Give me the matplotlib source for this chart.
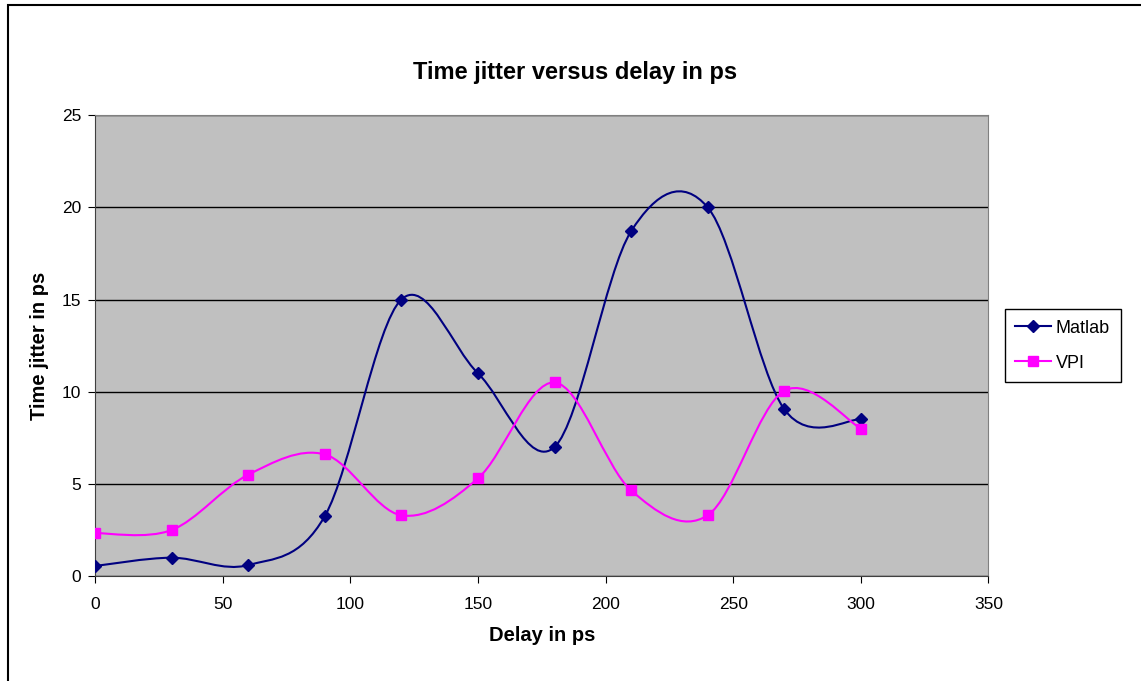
import matplotlib
matplotlib.use("Agg")
import matplotlib.pyplot as plt
from matplotlib.path import Path
from matplotlib.patches import PathPatch, Rectangle
from matplotlib.lines import Line2D

plt.rcParams['font.family'] = ['Liberation Sans', 'DejaVu Sans']

delay = [0, 30, 60, 90, 120, 150, 180, 210, 240, 270, 300]
matlab = [0.55, 1.0, 0.6, 3.25, 15.0, 11.0, 7.0, 18.7, 20.0, 9.05, 8.5]
vpi = [2.33, 2.5, 5.5, 6.6, 3.3, 5.3, 10.5, 4.65, 3.3, 10.05, 8.0]

matlab_color = '#000080'
vpi_color = '#FF00FF'


def smooth_path(xs, ys):
    # excel-like smoothed line: bezier segments through every point
    n = len(xs)
    verts = [(xs[0], ys[0])]
    codes = [Path.MOVETO]
    for i in range(n - 1):
        x0, y0 = xs[max(i - 1, 0)], ys[max(i - 1, 0)]
        x1, y1 = xs[i], ys[i]
        x2, y2 = xs[i + 1], ys[i + 1]
        x3, y3 = xs[min(i + 2, n - 1)], ys[min(i + 2, n - 1)]
        verts += [(x1 + (x2 - x0) / 6, y1 + (y2 - y0) / 6),
                  (x2 - (x3 - x1) / 6, y2 - (y3 - y1) / 6),
                  (x2, y2)]
        codes += [Path.CURVE4] * 3
    return Path(verts, codes)


fig = plt.figure(figsize=(11.41, 6.81), dpi=100)
ax = fig.add_axes([0.0833, 0.154, 0.783, 0.677])
ax.set_facecolor('#C0C0C0')

ax.add_patch(PathPatch(smooth_path(delay, matlab), facecolor='none',
                       edgecolor=matlab_color, lw=1.5, zorder=3))
ax.add_patch(PathPatch(smooth_path(delay, vpi), facecolor='none',
                       edgecolor=vpi_color, lw=1.5, zorder=3))
ax.plot(delay, matlab, linestyle='none', marker='D', markersize=6,
        color=matlab_color, zorder=4)
ax.plot(delay, vpi, linestyle='none', marker='s', markersize=7,
        color=vpi_color, zorder=4)

ax.set_xlim(0, 350)
ax.set_ylim(0, 25)
ax.set_xticks(range(0, 351, 50))
ax.set_yticks(range(0, 26, 5))
ax.yaxis.grid(True, color='black', lw=1)
ax.set_axisbelow(True)
ax.tick_params(direction='out', length=5, labelsize=12.5, colors='black')
ax.tick_params(axis='x', pad=10)
ax.tick_params(axis='y', pad=5)
for s in ['top', 'right']:
    ax.spines[s].set_color('#808080')
for s in ['left', 'bottom']:
    ax.spines[s].set_color('#404040')

# excel centres the title over the whole chart area, not the plot area
fig.text(575 / 1141, 1 - 79 / 681, 'Time jitter versus delay in ps',
         fontsize=17, fontweight='bold', ha='center', va='baseline')
ax.set_xlabel('Delay in ps', fontsize=14.5, fontweight='bold', labelpad=10)
ax.set_ylabel('Time jitter in ps', fontsize=14.5, fontweight='bold', labelpad=9)

handles = [Line2D([], [], color=matlab_color, marker='D', markersize=6, lw=1.5),
           Line2D([], [], color=vpi_color, marker='s', markersize=7, lw=1.5)]
leg = ax.legend(handles, ['Matlab', 'VPI'], loc='center left',
                bbox_to_anchor=(1.018, 0.5), borderaxespad=0, fontsize=13,
                frameon=True, fancybox=False, edgecolor='black', framealpha=1,
                handlelength=2.0, handletextpad=0.25, borderpad=0.6,
                labelspacing=1.0)
leg.get_frame().set_linewidth(1)

fig.patches.append(Rectangle((0.007, -0.02), 1.1, 1.013, transform=fig.transFigure,
                             fill=False, edgecolor='black', lw=1.5))

fig.savefig('out.png', dpi=100)
